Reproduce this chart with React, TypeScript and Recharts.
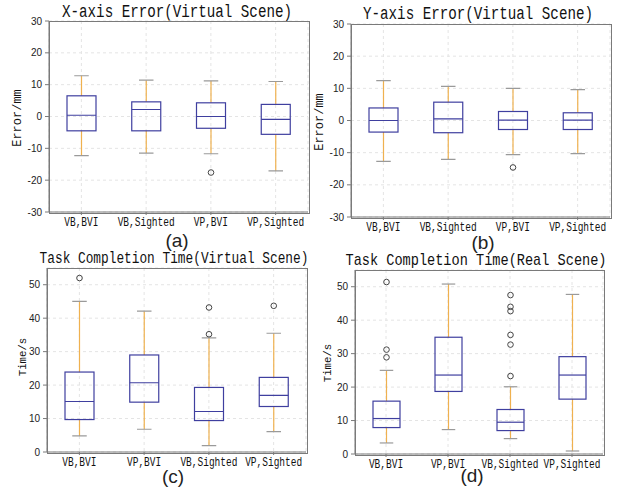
import React from "react";
import { ComposedChart, Bar, XAxis, YAxis, CartesianGrid } from "recharts";

// categories (order differs between the error plots and the time plots)
const ERR_CATS = ["VB,BVI", "VB,Sighted", "VP,BVI", "VP,Sighted"];
const TIME_CATS = ["VB,BVI", "VP,BVI", "VB,Sighted", "VP,Sighted"];

// (a) X-axis error, mm
const XERR_LOW = [-12.3, -11.5, -11.7, -17.1];
const XERR_Q1 = [-4.5, -4.5, -3.7, -5.6];
const XERR_MED = [0.4, 2.2, 0, -0.9];
const XERR_Q3 = [6.5, 4.6, 4.3, 3.8];
const XERR_HIGH = [12.8, 11.4, 11.2, 11.0];
const XERR_OUT = [[], [], [-17.6], []];

// (b) Y-axis error, mm
const YERR_LOW = [-12.7, -12.1, -10.6, -10.3];
const YERR_Q1 = [-3.6, -3.8, -2.8, -2.8];
const YERR_MED = [0, 0.5, 0.1, 0.1];
const YERR_Q3 = [3.9, 5.7, 2.8, 2.4];
const YERR_HIGH = [12.4, 10.6, 10.0, 9.6];
const YERR_OUT = [[], [], [-14.6], []];

// (c) task completion time, virtual scene, s
const VT_LOW = [4.8, 6.8, 1.9, 6.1];
const VT_Q1 = [9.7, 14.9, 9.4, 13.6];
const VT_MED = [15.1, 20.7, 12.1, 16.9];
const VT_Q3 = [23.9, 29.0, 19.3, 22.3];
const VT_HIGH = [45.0, 42.1, 34.1, 35.5];
const VT_OUT = [[52.0], [], [43.2, 35.2], [43.7]];

// (d) task completion time, real scene, s
const RT_LOW = [3.3, 7.3, 4.6, 0.9];
const RT_Q1 = [7.9, 18.7, 7.0, 16.4];
const RT_MED = [10.6, 23.6, 9.5, 23.6];
const RT_Q3 = [15.8, 34.9, 13.3, 29.1];
const RT_HIGH = [25.0, 50.8, 20.1, 47.7];
const RT_OUT = [[51.4, 31.2, 28.9], [], [47.5, 44.0, 42.7, 35.6, 32.7, 23.3], []];

const ERR_TICKS = [-30, -20, -10, 0, 10, 20, 30];
const TIME_TICKS = [0, 10, 20, 30, 40, 50];

const BOX_COLOR = "#3f3f9f";
const WHISKER_COLOR = "#efb14f";
const CAP_COLOR = "#9a9a9a";
const FRAME_COLOR = "#7a7a7a";
const MONO = "'Liberation Mono', 'DejaVu Sans Mono', monospace";
const SANS = "'Liberation Sans', Arial, sans-serif";

function buildRows(cats, low, q1, med, q3, high, out) {
  return cats.map((name, i) => ({
    name,
    range: [low[i], high[i]],
    low: low[i],
    q1: q1[i],
    med: med[i],
    q3: q3[i],
    high: high[i],
    outliers: out[i],
  }));
}

function BoxShape(props: any) {
  const { x, y, width, height, payload } = props;
  const { low, high, q1, med, q3, outliers } = payload;
  const top = Math.min(y, y + height);
  const h = Math.abs(height);
  const py = (v: number) => top + ((high - v) / (high - low)) * h;
  const cx = x + width / 2;
  const cap = width / 4;
  return (
    <g>
      <line x1={cx} x2={cx} y1={py(high)} y2={py(q3)} stroke={WHISKER_COLOR} strokeWidth={1.2} />
      <line x1={cx} x2={cx} y1={py(q1)} y2={py(low)} stroke={WHISKER_COLOR} strokeWidth={1.2} />
      <line x1={cx - cap} x2={cx + cap} y1={py(high)} y2={py(high)} stroke={CAP_COLOR} strokeWidth={1.2} />
      <line x1={cx - cap} x2={cx + cap} y1={py(low)} y2={py(low)} stroke={CAP_COLOR} strokeWidth={1.2} />
      <rect
        x={x}
        y={py(q3)}
        width={width}
        height={py(q1) - py(q3)}
        fill="none"
        stroke={BOX_COLOR}
        strokeWidth={1.2}
      />
      <line x1={x} x2={x + width} y1={py(med)} y2={py(med)} stroke={BOX_COLOR} strokeWidth={1.2} />
      {outliers.map((o: number, i: number) => (
        <circle key={i} cx={cx} cy={py(o)} r={2.8} fill="none" stroke="#444" strokeWidth={1} />
      ))}
    </g>
  );
}

function CatTick(props: any) {
  const { x, y, payload } = props;
  return (
    <g transform={`translate(${x},${y})`}>
      <text
        x={0}
        y={7}
        textAnchor="middle"
        transform="scale(1,1.25)"
        fontFamily={MONO}
        fontSize={9.5}
        fill="#111"
      >
        {payload.value}
      </text>
    </g>
  );
}

const LEFT = 45;
const TOP = 10;
const RIGHT = 5;
const BOTTOM = 30;

function BoxPanel({ plot, rows, domain, ticks, barSize, title, titleAt, titleSize, sub, subAt, ylabel, ylabelAt, ylabelSize }) {
  const w = plot.x1 - plot.x0 + LEFT + RIGHT;
  const h = plot.y1 - plot.y0 + TOP + BOTTOM;
  return (
    <>
      <div
        style={{
          position: "absolute",
          left: titleAt[0],
          top: titleAt[1],
          transform: "translate(-50%,-50%) scaleY(1.25)",
          fontFamily: MONO,
          fontSize: titleSize,
          lineHeight: 1,
          whiteSpace: "nowrap",
          color: "#111",
        }}
      >
        {title}
      </div>
      <div
        style={{
          position: "absolute",
          left: ylabelAt[0],
          top: ylabelAt[1],
          transform: "translate(-50%,-50%) rotate(-90deg)",
          fontFamily: MONO,
          fontSize: ylabelSize,
          lineHeight: 1,
          whiteSpace: "nowrap",
          color: "#111",
        }}
      >
        {ylabel}
      </div>
      <div
        style={{
          position: "absolute",
          left: subAt[0],
          top: subAt[1],
          transform: "translate(-50%,-50%)",
          fontFamily: SANS,
          fontSize: 19,
          lineHeight: 1,
          color: "#222",
        }}
      >
        {sub}
      </div>
      <div style={{ position: "absolute", left: plot.x0 - LEFT, top: plot.y0 - TOP }}>
        <ComposedChart
          width={w}
          height={h}
          data={rows}
          margin={{ top: TOP, right: RIGHT, left: 0, bottom: 0 }}
        >
          <CartesianGrid strokeDasharray="3 3" stroke="#e4e4e4" />
          <XAxis
            dataKey="name"
            height={BOTTOM}
            tick={<CatTick />}
            tickSize={3}
            tickMargin={2}
            interval={0}
            stroke={FRAME_COLOR}
          />
          <YAxis
            type="number"
            domain={domain}
            ticks={ticks}
            allowDataOverflow
            width={LEFT}
            tickSize={4}
            tickMargin={3}
            stroke={FRAME_COLOR}
            tick={{ fontFamily: SANS, fontSize: 10, fill: "#222" }}
          />
          <Bar dataKey="range" barSize={barSize} shape={<BoxShape />} isAnimationActive={false} />
        </ComposedChart>
      </div>
      {/* plot frame (top and right spines) */}
      <div
        style={{
          position: "absolute",
          left: plot.x0 - 0.5,
          top: plot.y0 - 0.5,
          width: plot.x1 - plot.x0,
          height: plot.y1 - plot.y0,
          border: `1px solid ${FRAME_COLOR}`,
          pointerEvents: "none",
        }}
      />
    </>
  );
}

export default function App() {
  const xRows = buildRows(ERR_CATS, XERR_LOW, XERR_Q1, XERR_MED, XERR_Q3, XERR_HIGH, XERR_OUT);
  const yRows = buildRows(ERR_CATS, YERR_LOW, YERR_Q1, YERR_MED, YERR_Q3, YERR_HIGH, YERR_OUT);
  const vRows = buildRows(TIME_CATS, VT_LOW, VT_Q1, VT_MED, VT_Q3, VT_HIGH, VT_OUT);
  const rRows = buildRows(TIME_CATS, RT_LOW, RT_Q1, RT_MED, RT_Q3, RT_HIGH, RT_OUT);
  return (
    <div
      style={{
        position: "absolute",
        left: 0,
        top: 0,
        width: 619,
        height: 491,
        background: "#fff",
        overflow: "hidden",
      }}
    >
      <BoxPanel
        plot={{ x0: 49, y0: 21, x1: 308, y1: 212 }}
        rows={xRows}
        domain={[-30, 30]}
        ticks={ERR_TICKS}
        barSize={29}
        title="X-axis Error(Virtual Scene)"
        titleAt={[177, 12]}
        titleSize={14.2}
        sub="(a)"
        subAt={[177, 240]}
        ylabel="Error/mm"
        ylabelAt={[18, 118]}
        ylabelSize={12}
      />
      <BoxPanel
        plot={{ x0: 351, y0: 24, x1: 610, y1: 217 }}
        rows={yRows}
        domain={[-30, 30]}
        ticks={ERR_TICKS}
        barSize={29}
        title="Y-axis Error(Virtual Scene)"
        titleAt={[478, 14]}
        titleSize={14.2}
        sub="(b)"
        subAt={[483, 242]}
        ylabel="Error/mm"
        ylabelAt={[320, 122]}
        ylabelSize={12}
      />
      <BoxPanel
        plot={{ x0: 47, y0: 268, x1: 306, y1: 452 }}
        rows={vRows}
        domain={[0, 55]}
        ticks={TIME_TICKS}
        barSize={29}
        title="Task Completion Time(Virtual Scene)"
        titleAt={[174, 260]}
        titleSize={12.8}
        sub="(c)"
        subAt={[173, 476]}
        ylabel="Time/s"
        ylabelAt={[23, 357]}
        ylabelSize={10.7}
      />
      <BoxPanel
        plot={{ x0: 355, y0: 270, x1: 603, y1: 454 }}
        rows={rRows}
        domain={[0, 55]}
        ticks={TIME_TICKS}
        barSize={27}
        title="Task Completion Time(Real Scene)"
        titleAt={[476, 261]}
        titleSize={13.6}
        sub="(d)"
        subAt={[472, 475]}
        ylabel="Time/s"
        ylabelAt={[328, 363]}
        ylabelSize={10.7}
      />
    </div>
  );
}
